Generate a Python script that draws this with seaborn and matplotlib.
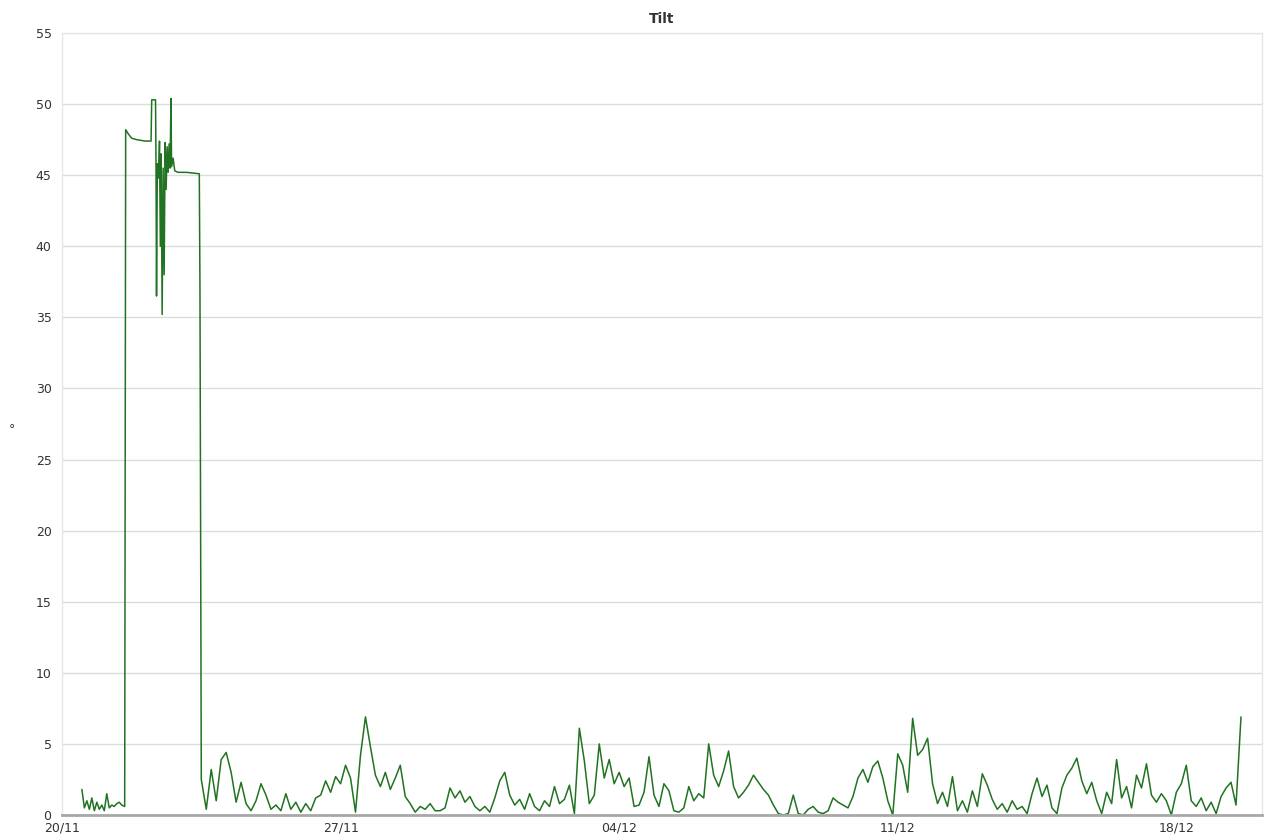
import pandas as pd
import numpy as np
import matplotlib
matplotlib.use("Agg")
import matplotlib.pyplot as plt
import matplotlib.dates as mdates
import seaborn as sns

# First days: irregular readings, hours since 20/11 00:00
early_hours = [
    12, 13.5, 15, 16.5, 18, 19.5, 21, 22.5, 24, 25.5, 27, 28.5, 30, 31.5, 33, 34.5, 36, 37.8,
    38.4, 40, 42, 45, 50, 53.7, 54.1, 56.4, 56.7, 57.0, 57.5, 58.2, 58.8, 59.3, 59.8,
    60.4, 61.0, 61.6, 62.2, 62.8, 63.4, 64.0, 64.6, 65.2, 65.7, 66.1, 67, 68, 70, 75,
    82.8, 83.2,
]
early_tilt = [
    1.8, 0.5, 1.0, 0.4, 1.2, 0.3, 0.9, 0.4, 0.7, 0.3, 1.5, 0.5, 0.7, 0.6, 0.8, 0.9, 0.7, 0.6,
    48.2, 47.9, 47.6, 47.5, 47.4, 47.4, 50.3, 50.3, 45.6, 36.5, 45.8, 44.8, 47.4, 40.0, 46.5,
    35.2, 45.5, 38.0, 47.3, 44.0, 47.0, 45.2, 47.2, 45.5, 50.4, 45.6, 46.2, 45.3, 45.2, 45.2,
    45.1, 37.0,
]

# Then one reading every 3 hours from 23/11 12:00 (one row = one day)
start = "2017-11-23 12:00"
step_hours = 3
tilt = [
    2.5, 0.4, 3.2, 1.0, 3.9, 4.4, 3.0, 0.9,
    2.3, 0.8, 0.3, 1.0, 2.2, 1.4, 0.4, 0.7,
    0.3, 1.5, 0.4, 0.9, 0.2, 0.8, 0.3, 1.2,
    1.4, 2.4, 1.6, 2.7, 2.2, 3.5, 2.6, 0.2,
    4.2, 6.9, 4.8, 2.8, 2.0, 3.0, 1.8, 2.6,
    3.5, 1.3, 0.8, 0.2, 0.6, 0.4, 0.8, 0.3,
    0.3, 0.5, 1.9, 1.2, 1.7, 0.9, 1.3, 0.6,
    0.3, 0.6, 0.2, 1.2, 2.4, 3.0, 1.4, 0.7,
    1.1, 0.4, 1.5, 0.6, 0.3, 1.0, 0.6, 2.0,
    0.8, 1.1, 2.1, 0.1, 6.1, 3.8, 0.8, 1.4,
    5.0, 2.6, 3.9, 2.2, 3.0, 2.0, 2.6, 0.6,
    0.7, 1.6, 4.1, 1.4, 0.6, 2.2, 1.7, 0.3,
    0.2, 0.5, 2.0, 1.0, 1.5, 1.2, 5.0, 2.8,
    2.0, 3.1, 4.5, 2.0, 1.2, 1.6, 2.1, 2.8,
    2.3, 1.8, 1.4, 0.7, 0.1, 0.0, 0.1, 1.4,
    0.1, 0.0, 0.4, 0.6, 0.2, 0.1, 0.3, 1.2,
    0.9, 0.7, 0.5, 1.3, 2.6, 3.2, 2.3, 3.4,
    3.8, 2.6, 1.0, 0.0, 4.3, 3.5, 1.6, 6.8,
    4.2, 4.6, 5.4, 2.2, 0.8, 1.6, 0.6, 2.7,
    0.3, 1.0, 0.2, 1.7, 0.6, 2.9, 2.1, 1.1,
    0.4, 0.8, 0.2, 1.0, 0.4, 0.6, 0.1, 1.5,
    2.6, 1.3, 2.1, 0.5, 0.1, 1.9, 2.8, 3.3,
    4.0, 2.4, 1.5, 2.3, 1.0, 0.1, 1.6, 0.8,
    3.9, 1.2, 2.0, 0.5, 2.8, 1.9, 3.6, 1.4,
    0.9, 1.5, 1.0, 0.0, 1.6, 2.2, 3.5, 1.0,
    0.6, 1.2, 0.3, 0.9, 0.1, 1.3, 1.9, 2.3,
    0.7, 6.9,
]
x_ticks = ["2017-11-20", "2017-11-27", "2017-12-04", "2017-12-11", "2017-12-18"]
y_ticks = list(range(0, 56, 5))

early = pd.DataFrame({
    "time": pd.Timestamp("2017-11-20") + pd.to_timedelta(early_hours, unit="h"),
    "tilt": early_tilt,
})
later = pd.DataFrame({
    "time": pd.date_range(start, periods=len(tilt), freq=f"{step_hours}h"),
    "tilt": tilt,
})
df = pd.concat([early, later], ignore_index=True)

sns.set_style("white")
plt.rcParams["font.family"] = ["DejaVu Sans"]

fig = plt.figure(figsize=(12.7, 8.4), dpi=100)
ax = fig.add_axes([62 / 1270, 25 / 840, 1200 / 1270, 782 / 840])

sns.lineplot(data=df, x="time", y="tilt", ax=ax, color="#217321", linewidth=1.1, sort=False)

ax.set_xlim(pd.Timestamp("2017-11-20 00:00"), pd.Timestamp("2017-12-20 03:40"))
ax.set_ylim(0, 55)
ax.set_yticks(y_ticks)
ax.set_xticks(pd.to_datetime(x_ticks))
ax.xaxis.set_major_formatter(mdates.DateFormatter("%d/%m"))

ax.yaxis.grid(True, color="#dcdcdc", linewidth=1)
ax.xaxis.grid(False)
ax.tick_params(axis="both", labelsize=9, colors="#333333", length=4, width=0.8)
ax.tick_params(axis="x", pad=1)
ax.tick_params(axis="both", color="#bbbbbb")

for side in ["top", "right", "left"]:
    ax.spines[side].set_color("#e6e6e6")
    ax.spines[side].set_linewidth(1)
ax.spines["bottom"].set_color("#a8a8a8")
ax.spines["bottom"].set_linewidth(2)

ax.set_xlabel("")
ax.set_ylabel("°", rotation=0, fontsize=9, color="#333333")
ax.yaxis.set_label_coords(-0.042, 0.485)
ax.set_title("Tilt", fontsize=10, fontweight="bold", color="#333333", pad=7)

fig.savefig("out.png", dpi=100)
